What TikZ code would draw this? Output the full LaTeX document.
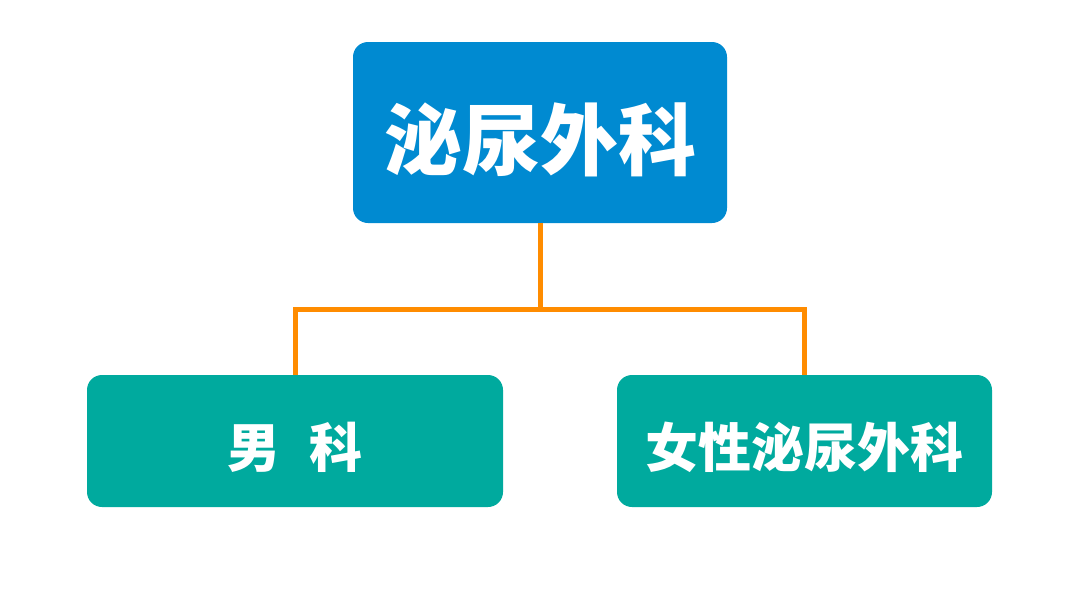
\documentclass[tikz,border=0pt]{standalone}
\usepackage{fontspec}
\newfontfamily\cjk{Noto Sans CJK SC}
\definecolor{topblue}{HTML}{008AD1}
\definecolor{teal}{HTML}{00AA9E}
\definecolor{lineorange}{HTML}{FF8C00}
\tikzset{
  boxbase/.style={rectangle, rounded corners=15pt, inner sep=0pt, text=white, font=\cjk\bfseries},
  topbox/.style={boxbase, fill=topblue, minimum width=374pt, minimum height=181pt, font=\cjk\bfseries\fontsize{78}{80}\selectfont, text height=73pt, text depth=0pt},
  subbox/.style={boxbase, fill=teal, minimum height=132pt, font=\cjk\bfseries\fontsize{53}{56}\selectfont, text height=53pt, text depth=0pt},
  link/.style={draw=lineorange, line width=5pt}
}
\begin{document}
\begin{tikzpicture}[x=1pt,y=-1pt]
\useasboundingbox (0,0) rectangle (1080,595);
\node[topbox] (top) at (540,132.5) {泌尿外科};
\node[subbox, minimum width=416pt] (left) at (295,441) {男\hspace{30pt}科};
\node[subbox, minimum width=375pt] (right) at (804.5,441) {女性泌尿外科};
\coordinate (j) at (540,309);
\draw[link] (top.south) -- (j);
\draw[link] (left.north) |- (j) -| (right.north);
\end{tikzpicture}
\end{document}
